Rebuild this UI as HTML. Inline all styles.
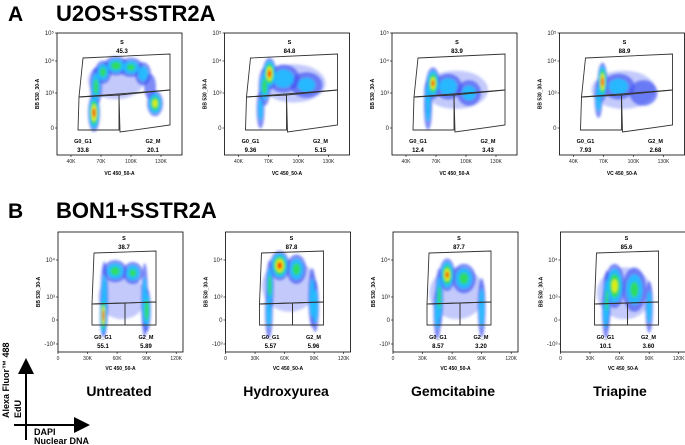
<!DOCTYPE html>
<html><head><meta charset="utf-8"><style>
body{margin:0;background:#fff;}
svg{display:block;font-family:"Liberation Sans",sans-serif;}
</style></head><body>
<svg id="fig" width="685" height="445" viewBox="0 0 685 445">
<defs>
<filter id="bl" x="-50%" y="-50%" width="200%" height="200%"><feGaussianBlur stdDeviation="1.2"/></filter>
<marker id="ah" markerWidth="8" markerHeight="8" refX="6" refY="4" orient="auto"><path d="M0,0 L8,4 L0,8 z" fill="#000"/></marker>
</defs>
<text x="8" y="21" font-size="21" font-weight="bold">A</text>
<text x="56" y="21" font-size="22" font-weight="bold">U2OS+SSTR2A</text>
<text x="8" y="218" font-size="21" font-weight="bold">B</text>
<text x="56" y="218" font-size="22" font-weight="bold">BON1+SSTR2A</text>
<g id="plots"></g>
<text x="119" y="396" font-size="14" font-weight="bold" text-anchor="middle">Untreated</text>
<text x="286" y="396" font-size="14" font-weight="bold" text-anchor="middle">Hydroxyurea</text>
<text x="453" y="396" font-size="14" font-weight="bold" text-anchor="middle">Gemcitabine</text>
<text x="620" y="396" font-size="14" font-weight="bold" text-anchor="middle">Triapine</text>
<line x1="26" y1="440" x2="26" y2="362" stroke="#000" stroke-width="2" marker-end="url(#ah)"/>
<line x1="14" y1="425" x2="86" y2="425" stroke="#000" stroke-width="2" marker-end="url(#ah)"/>
<text transform="translate(9,418) rotate(-90)" font-size="9" font-weight="bold">Alexa Fluor™ 488</text>
<text transform="translate(21,418) rotate(-90)" font-size="9" font-weight="bold">EdU</text>
<text x="34" y="435" font-size="9" font-weight="bold">DAPI</text>
<text x="34" y="444" font-size="9" font-weight="bold">Nuclear DNA</text>
</svg>
<script>
// gate percentages [S, G0_G1, G2_M]
const topS=["45.3","84.8","83.9","88.9"];
const topG1=["33.8","9.36","12.4","7.93"];
const topG2=["20.1","5.15","3.43","2.68"];
const botS=["38.7","87.8","87.7","85.6"];
const botG1=["55.1","5.57","8.57","10.1"];
const botG2=["5.89","5.96","3.20","3.60"];
const topXTicks=[40,70,100,130];
const topXLabels=["40K","70K","100K","130K"];
const botXTicks=[0,30,60,90,120];
const botXLabels=["0","30K","60K","90K","120K"];
// density blobs: [xK, yDecade, sdX(K), sdY(decade), heat 0..4]
const topBlobs=[
 [[63,1.3,3,0.3,4],[124,2.1,4,0.2,3],[65,3.2,3,0.3,2],[72,3.65,4,0.18,2],[85,3.85,6,0.15,2.2],[100,3.8,6,0.15,1.8],[112,3.6,4,0.18,1.4],[119,3.2,3,0.2,0.8],[85,3.4,14,0.3,0.3]],
 [[71,3.6,3.5,0.25,4],[66,3.2,3,0.3,2],[85,3.45,8,0.22,1.5],[108,3.25,8,0.2,0.9],[62,1.6,2,0.3,1],[95,3.3,16,0.3,0.3]],
 [[67,3.3,3.5,0.25,3.5],[62,2.6,2,0.3,1.5],[82,3.2,7,0.2,1.5],[103,3.0,6,0.2,1],[62,1.5,2,0.3,1],[90,3.1,16,0.3,0.3]],
 [[69,3.35,2.5,0.3,4],[65,2.5,2,0.3,1.5],[85,3.2,8,0.2,1.2],[110,3.0,7,0.2,0.8],[90,3.1,16,0.3,0.3]]
];
const botBlobs=[
 [[46,0.6,1.8,0.3,4],[90,1.3,2.2,0.3,2.5],[47,2.8,2,0.5,1.5],[58,3.7,6,0.15,2],[76,3.65,5,0.15,1.8],[88,2.6,1.8,0.5,1.3],[65,3.0,12,0.3,0.2]],
 [[55,3.85,5,0.2,4],[45,3.3,2,0.35,2],[72,3.75,5,0.2,2],[88,2.9,2,0.4,1.5],[91,1.8,2,0.35,1.5],[44,1.0,2,0.35,1.2],[65,3.3,14,0.35,0.3]],
 [[55,3.6,4,0.22,3.5],[47,2.9,2,0.4,2],[72,3.5,6,0.2,2],[90,1.6,2,0.4,1.5],[45,0.9,2,0.35,1.2],[65,3.1,14,0.35,0.3]],
 [[55,3.3,5,0.3,3],[47,2.6,2,0.4,1.8],[75,3.2,6,0.3,1.8],[90,1.7,2,0.35,1.3],[46,1.0,2,0.35,1.2],[65,3.1,14,0.35,0.3]]
];
const NS="http://www.w3.org/2000/svg";
const plots=document.getElementById('plots');
function mk(tag,attrs,parent){const e=document.createElementNS(NS,tag);for(const k in attrs)e.setAttribute(k,attrs[k]);(parent||plots).appendChild(e);return e;}
function pw(v,ks,vs){for(let i=0;i<ks.length-1;i++){if(v<=ks[i+1]||i==ks.length-2){const t=(v-ks[i])/(ks[i+1]-ks[i]);return vs[i]+t*(vs[i+1]-vs[i]);}}}
const heat=["#3a4ef2","#20c0ff","#30e050","#f0f000","#ff2000"];
function drawPanel(row,i){
 const top=row==0;
 const L=(top?57:58)+i*167.5, T=top?33:232, W=125, H=top?122:120;
 const xs=top?(k=>L+(k-26)*1.0):(k=>L+k*0.985);
 const yd=top?[-2,0,3,4,5]:[-3,0,3,4,5];
 const yp=top?[150,128,93,61,33]:[344,320,297,260,223];
 const ys=d=>pw(d,yd,yp);
 const g=mk('g',{});
 
 
 const cp=mk('clipPath',{id:'c'+row+i},g);
 mk('rect',{x:L,y:T,width:W,height:H},cp);
 const dg=mk('g',{'clip-path':'url(#c'+row+i+')'},g);
 
 
 const inner=mk('g',{filter:'url(#bl)'},dg);
 const blobs=(top?topBlobs:botBlobs)[i];
 const pxPerDec=top?32:37;
 for(let lvl=0;lvl<5;lvl++){
  blobs.forEach(b=>{
   const h=b[4]; if(lvl>0 && h<lvl*0.85) return;
   const f=lvl==0?1:Math.max(0.2,1-lvl/(h+1.3));
   const rx=b[2]*2.0*f*(top?1:0.985), ry=b[3]*pxPerDec*2.0*f;
   const op=lvl==0?(h<0.5?0.3:0.65):0.9;
   const e=mk('ellipse',{cx:xs(b[0]),cy:ys(b[1]),rx:Math.max(rx,0.8),ry:Math.max(ry,0.8),fill:heat[lvl],opacity:op},inner);
   
   
  });
 }
 const fr=mk('rect',{x:L,y:T,width:W,height:H,fill:'none',stroke:'#000','stroke-width':0.8},g);
 
 
 const gs=top?{S:[[26,25],[113,21],[113,57],[22,64]],G1:[[22,64],[62,62],[62,97],[21,97]],G2:[[62,62],[113,57],[113,92],[63,99]]}
   :{S:[[36,21],[98,19],[98,70],[34,72]],G1:[[34,72],[67,71],[67,93],[34,93]],G2:[[67,71],[98,70],[98,93],[67,93]]};
 for(const k in gs){const p=mk('polygon',{points:gs[k].map(q=>(L+q[0])+','+(T+q[1])).join(' '),fill:'none',stroke:'#333','stroke-width':0.9},g);
  
  }
 const vals=top?[topS[i],topG1[i],topG2[i]]:[botS[i],botG1[i],botG2[i]];
 const lp=top?[[65,7],[26,106],[96,106]]:[[66,4],[45,103],[88,103]];
 const nm=['S','G0_G1','G2_M'];
 lp.forEach((q,j)=>{
  const t1=mk('text',{x:L+q[0],y:T+q[1]+4,'font-size':5.5,'font-weight':'bold','text-anchor':'middle'},g);t1.textContent=nm[j];
  
  const t2=mk('text',{x:L+q[0],y:T+q[1]+13,'font-size':6,'font-weight':'bold','text-anchor':'middle'},g);t2.textContent=vals[j];
  
 });
 const xt=top?topXTicks:botXTicks, xl=top?topXLabels:botXLabels;
 xt.forEach((k,j)=>{
  mk('line',{x1:xs(k),y1:T+H,x2:xs(k),y2:T+H+2,stroke:'#000','stroke-width':0.6},g);
  const t=mk('text',{x:xs(k),y:T+H+8,'font-size':5,'text-anchor':'middle',fill:'#222'},g);t.textContent=xl[j];
  
 });
 const yl=top?[[5,'10⁵'],[4,'10⁴'],[3,'10³'],[0,'0']]:[[4,'10⁴'],[3,'10³'],[0,'0'],[-3,'-10³']];
 yl.forEach(q=>{
  mk('line',{x1:L-2,y1:ys(q[0]),x2:L,y2:ys(q[0]),stroke:'#000','stroke-width':0.6},g);
  const t=mk('text',{x:L-3,y:ys(q[0])+2,'font-size':6,'text-anchor':'end',fill:'#222'},g);t.textContent=q[1];
  
 });
 const xt2=mk('text',{x:L+W/2,y:T+H+(top?20:18),'font-size':5,'font-weight':'bold','text-anchor':'middle'},g);xt2.textContent='VC 450_50-A';
 
 const yt=mk('text',{transform:'translate('+(L-18)+','+(T+H/2)+') rotate(-90)','font-size':5,'font-weight':'bold','text-anchor':'middle'},g);yt.textContent='BB 530_30-A';
 
}
for(let r=0;r<2;r++)for(let i=0;i<4;i++)drawPanel(r,i);
</script>
</body></html>
